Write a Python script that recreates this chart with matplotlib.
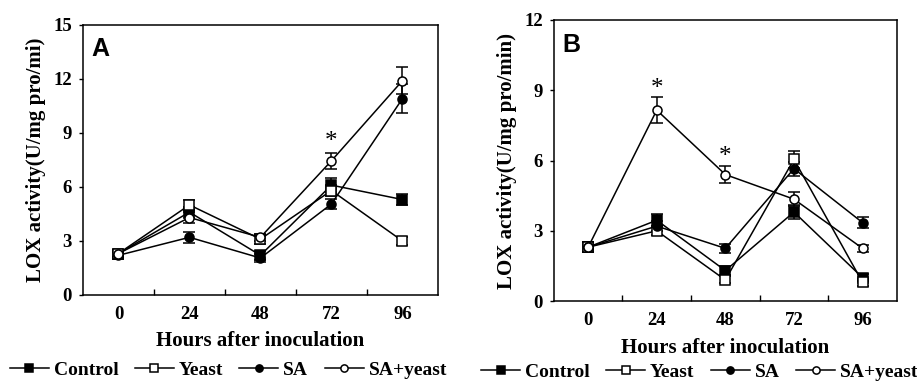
import matplotlib
matplotlib.use('Agg')
from matplotlib import pyplot as plt

horas = ['0', '24', '48', '72', '96']
series = ['Control', 'Yeast', 'SA', 'SA+yeast']

# painel A
a_control = [2.3, 4.6, 2.2, 6.1, 5.3]
a_yeast = [2.3, 5.0, 3.1, 5.8, 3.0]
a_sa = [2.2, 3.2, 2.05, 5.05, 10.9]
a_sayeast = [2.3, 4.3, 3.2, 7.45, 11.9]
a_control_err = [0.2, 0.3, 0.25, 0.4, 0.3]
a_yeast_err = [0.2, 0.3, 0.25, 0.3, 0.2]
a_sa_err = [0.2, 0.3, 0.2, 0.3, 0.8]
a_sayeast_err = [0.2, 0.3, 0.2, 0.45, 0.75]
a_estrela = [(3, 8.5)]

# painel B
b_control = [2.3, 3.45, 1.3, 3.8, 1.0]
b_yeast = [2.3, 3.0, 0.9, 6.05, 0.8]
b_sa = [2.3, 3.2, 2.25, 5.65, 3.35]
b_sayeast = [2.3, 8.15, 5.4, 4.35, 2.25]
b_control_err = [0.2, 0.25, 0.2, 0.3, 0.15]
b_yeast_err = [0.2, 0.2, 0.15, 0.35, 0.15]
b_sa_err = [0.2, 0.2, 0.2, 0.3, 0.25]
b_sayeast_err = [0.2, 0.55, 0.35, 0.3, 0.15]
b_estrela = [(1, 9.05), (2, 6.15)]

estilos = [dict(marker='s', mfc='black'), dict(marker='s', mfc='white'),
           dict(marker='o', mfc='black'), dict(marker='o', mfc='white')]

plt.rcParams['font.family'] = ['Liberation Serif', 'DejaVu Serif']
plt.rcParams['font.weight'] = 'bold'

Figura = plt.figure(figsize=(9.17, 3.84), dpi=100)


def painel(ax, dados, erros, ymax, passo, ylabel, letra, estrelas, leg_x, leg_y):
    x = list(range(len(horas)))
    linhas = []
    for valores, err, nome, est in zip(dados, erros, series, estilos):
        h = ax.errorbar(x, valores, yerr=err, color='black', lw=1.1, capsize=4.5,
                        elinewidth=1.1, capthick=1.1, marker=est['marker'], mfc=est['mfc'],
                        mec='black', ms=6.5, mew=1.1, label=nome)
        linhas.append(h[0])
    for xi, yi in estrelas:
        ax.text(xi, yi, '*', ha='center', va='center', fontsize=18, fontweight='normal')
    ax.set_xlim(-0.5, 4.5)
    ax.set_ylim(0, ymax)
    ax.set_yticks(range(0, ymax + 1, passo))
    ax.set_xticks(x)
    ax.set_xticklabels(horas)
    ax.set_xticks([0.5, 1.5, 2.5, 3.5], minor=True)
    ax.tick_params(axis='x', which='major', length=0, pad=8, labelsize=13.5)
    ax.tick_params(axis='x', which='minor', direction='in', length=4, width=1)
    ax.tick_params(axis='y', length=3, width=1, pad=5, labelsize=13.5)
    ax.set_xlabel('Hours after inoculation', fontsize=15, fontweight='bold', labelpad=6)
    ax.set_ylabel(ylabel, fontsize=15, fontweight='bold', labelpad=5)
    for s in ax.spines.values():
        s.set_linewidth(1.1)
    ax.text(0.025, 0.955, letra, transform=ax.transAxes, ha='left', va='top',
            fontsize=18, fontweight='bold', family='Liberation Sans')
    Figura.legend(handles=linhas, labels=series, loc='center', ncol=4, frameon=False,
                  bbox_to_anchor=(leg_x, leg_y), bbox_transform=Figura.transFigure,
                  prop=dict(size=14, weight='bold'), markerscale=0.8,
                  handlelength=2.0, handletextpad=0.25, columnspacing=0.85,
                  borderpad=0, borderaxespad=0)


axA = Figura.add_axes([0.0905, 0.232, 0.387, 0.703])
painel(axA, [a_control, a_yeast, a_sa, a_sayeast],
       [a_control_err, a_yeast_err, a_sa_err, a_sayeast_err],
       15, 3, 'LOX activity(U/mg pro/mi)', 'A', a_estrela, 0.249, 0.037)

axB = Figura.add_axes([0.604, 0.216, 0.374, 0.732])
painel(axB, [b_control, b_yeast, b_sa, b_sayeast],
       [b_control_err, b_yeast_err, b_sa_err, b_sayeast_err],
       12, 3, 'LOX activity(U/mg pro/min)', 'B', b_estrela, 0.763, 0.030)

plt.savefig('out.png', dpi=100)
